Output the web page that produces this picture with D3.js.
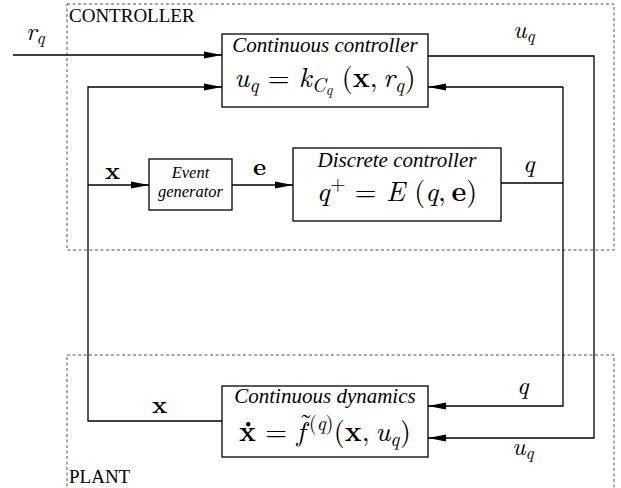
<!DOCTYPE html>
<html>
<head>
<meta charset="utf-8">
<script src="https://cdn.jsdelivr.net/npm/d3@7"></script>
<style>
  html, body { margin: 0; padding: 0; background: #fff; }
  svg { display: block; }
</style>
</head>
<body>
<svg id="chart" width="621" height="488"></svg>
<script>
// ---------- data ----------
const groupNames = ["CONTROLLER", "PLANT"];
const blockTitles = ["Continuous controller", "Event generator", "Discrete controller", "Continuous dynamics"];
// formula segments: [text, style(i/b/r), level(0 base, 1 sub, 2 subsub, -1 sup, "acc" accent), dx(em)]
const formulaCC = [["u","i",0],["q","i",1],[" = ","r",0],["k","i",0],["C","i",1],["q","i",2],[" (","r",0],["x","b",0],[",\u2009","r",0],["r","i",0],["q","i",1],[")","r",0,0.03]];
const formulaDC = [["q","i",0],["+","r",-1,0.02],[" = ","r",0],["E","i",0],[" (","r",0],["q","i",0],[",\u2009","r",0],["e","b",0],[")","r",0]];
const formulaCD = [["\u1E8B","b",0],[" = ","r",0],["f","i",0],["\u02DC","r","acc",-0.22],["(","r",-1,-0.14],["q","i",-1],[")","r",-1],["(","r",0,0.02],["x","b",0],[",\u2009","r",0],["u","i",0],["q","i",1],[")","r",0,0.03]];
const signalLabels = {
  rq: [["r","i",0],["q","i",1]],
  uq: [["u","i",0],["q","i",1]],
  q:  [["q","i",0]],
  x:  [["x","b",0]],
  e:  [["e","b",0]]
};

// ---------- layout ----------
const X = d3.scaleOrdinal()
  .domain(["in","group","fb","eg0","eg1","cc0","cc1","dc0","dc1","qv","uv","groupR"])
  .range([13, 67, 88, 149, 232, 222, 428, 293, 501, 563, 594, 614]);
const Y = d3.scaleOrdinal()
  .domain(["gTop","ccTop","rq","ccIn2","ccBot","dcTop","mid","egTop","egBot","dcBot","gBot","pTop","cdTop","cdQ","cdX","cdU","cdBot","pBot"])
  .range([4, 34, 55, 87, 107, 148, 185, 159, 210, 221, 250, 355, 386, 406, 421, 438, 457, 520]);

const svg = d3.select("#chart");
const TEXTFONT = "Liberation Serif";
const MATHFONT = "Latin Modern Roman";

const defs = svg.append("defs");
defs.append("marker").attr("id","arr")
  .attr("viewBox","0 0 18 8").attr("refX",18).attr("refY",4)
  .attr("markerWidth",18).attr("markerHeight",8)
  .attr("markerUnits","userSpaceOnUse").attr("orient","auto")
  .append("path").attr("d","M0,0.5 L18,4 L0,7.5 Z").attr("fill","#000");

// dashed groups
const groups = [
  {name: groupNames[0], x0:"group", x1:"groupR", y0:"gTop", y1:"gBot", ly: 22},
  {name: groupNames[1], x0:"group", x1:"groupR", y0:"pTop", y1:"pBot", ly: 483}
];
svg.selectAll("rect.grp").data(groups).join("rect")
  .attr("class","grp")
  .attr("x", d => X(d.x0)).attr("y", d => Y(d.y0))
  .attr("width", d => X(d.x1) - X(d.x0)).attr("height", d => Y(d.y1) - Y(d.y0))
  .attr("fill","none").attr("stroke","#555").attr("stroke-width",1).attr("stroke-dasharray","3,2.5");
svg.selectAll("text.grp").data(groups).join("text")
  .attr("class","grp")
  .attr("x", d => X(d.x0) + 2).attr("y", d => d.ly)
  .attr("font-family", TEXTFONT).attr("font-size", 19).text(d => d.name);

// wires
const wires = [
  {pts:[["in","rq"],["cc0","rq"]], arrow:true},
  {pts:[["cc0","cdX"],["fb","cdX"],["fb","ccIn2"],["cc0","ccIn2"]], arrow:true},
  {pts:[["fb","mid"],["eg0","mid"]], arrow:true},
  {pts:[["eg1","mid"],["dc0","mid"]], arrow:true},
  {pts:[["dc1",183],["qv",183]], arrow:false},
  {pts:[["qv","ccIn2"],["cc1","ccIn2"]], arrow:true},
  {pts:[["qv","ccIn2"],["qv","cdQ"],["cc1","cdQ"]], arrow:true},
  {pts:[["cc1",56],["uv",56],["uv","cdU"],["cc1","cdU"]], arrow:true}
];
const line = d3.line().x(p => X(p[0])).y(p => typeof p[1] === "number" ? p[1] : Y(p[1]));
svg.selectAll("path.wire").data(wires).join("path")
  .attr("class","wire")
  .attr("d", d => line(d.pts))
  .attr("fill","none").attr("stroke","#000").attr("stroke-width",1.3)
  .attr("marker-end", d => d.arrow ? "url(#arr)" : null);

// blocks
const blocks = [
  {title: blockTitles[0], x0:"cc0", x1:"cc1", y0:"ccTop", y1:"ccBot", f: formulaCC, ty: 52, fy: 87},
  {title: blockTitles[2], x0:"dc0", x1:"dc1", y0:"dcTop", y1:"dcBot", f: formulaDC, ty: 167, fy: 201},
  {title: blockTitles[3], x0:"cc0", x1:"cc1", y0:"cdTop", y1:"cdBot", f: formulaCD, ty: 403, fy: 441}
];
svg.selectAll("rect.blk").data(blocks).join("rect")
  .attr("class","blk")
  .attr("x", d => X(d.x0)).attr("y", d => Y(d.y0))
  .attr("width", d => X(d.x1) - X(d.x0)).attr("height", d => Y(d.y1) - Y(d.y0))
  .attr("fill","#fff").attr("stroke","#000").attr("stroke-width",1.3);
svg.selectAll("text.btitle").data(blocks).join("text")
  .attr("class","btitle")
  .attr("x", d => (X(d.x0) + X(d.x1)) / 2).attr("y", d => d.ty)
  .attr("text-anchor","middle").attr("font-family", TEXTFONT).attr("font-style","italic")
  .attr("font-size", 21).text(d => d.title);

// event generator block
svg.append("rect")
  .attr("x", X("eg0")).attr("y", Y("egTop"))
  .attr("width", X("eg1") - X("eg0")).attr("height", Y("egBot") - Y("egTop"))
  .attr("fill","#fff").attr("stroke","#000").attr("stroke-width",1.3);
const egWords = blockTitles[1].split(" ");
svg.append("text")
  .attr("x", (X("eg0") + X("eg1")) / 2).attr("y", 178)
  .attr("text-anchor","middle").attr("font-family", TEXTFONT).attr("font-style","italic").attr("font-size", 16.5)
  .selectAll("tspan").data(egWords).join("tspan")
  .attr("x", (X("eg0") + X("eg1")) / 2).attr("dy", (d, i) => i === 0 ? 0 : 19).text(d => d);

// math renderer
function mathText(sel, segs, size) {
  const shifts = {0: 0, 1: 0.17, 2: 0.27, "-1": -0.38, acc: -0.3};
  const scales = {0: 1, 1: 0.7, 2: 0.52, "-1": 0.7, acc: 1};
  let cur = 0;
  sel.selectAll("tspan").data(segs).join("tspan")
    .attr("font-style", d => d[1] === "i" ? "italic" : "normal")
    .attr("font-weight", d => d[1] === "b" ? "bold" : "normal")
    .attr("font-size", d => size * scales[d[2]])
    .attr("dx", d => d[3] ? d[3] * size : null)
    .attr("dy", d => { const t = shifts[d[2]] * size; const dy = t - cur; cur = t; return dy; })
    .style("white-space","pre")
    .text(d => d[0]);
}
blocks.forEach(b => {
  const t = svg.append("text")
    .attr("x", (X(b.x0) + X(b.x1)) / 2).attr("y", b.fy)
    .attr("text-anchor","middle").attr("font-family", MATHFONT)
    .attr("xml:space","preserve");
  mathText(t, b.f, 28);
});

// signal labels
const labels = [
  {k:"rq", x:26, y:40}, {k:"uq", x:513, y:38}, {k:"x", x:105, y:179}, {k:"e", x:253, y:175},
  {k:"q", x:523, y:172}, {k:"q", x:517, y:394}, {k:"uq", x:512, y:455}, {k:"x", x:152, y:413}
];
labels.forEach(l => {
  const t = svg.append("text").attr("x", l.x).attr("y", l.y).attr("font-family", MATHFONT);
  mathText(t, signalLabels[l.k], 25);
});
</script>
</body>
</html>
